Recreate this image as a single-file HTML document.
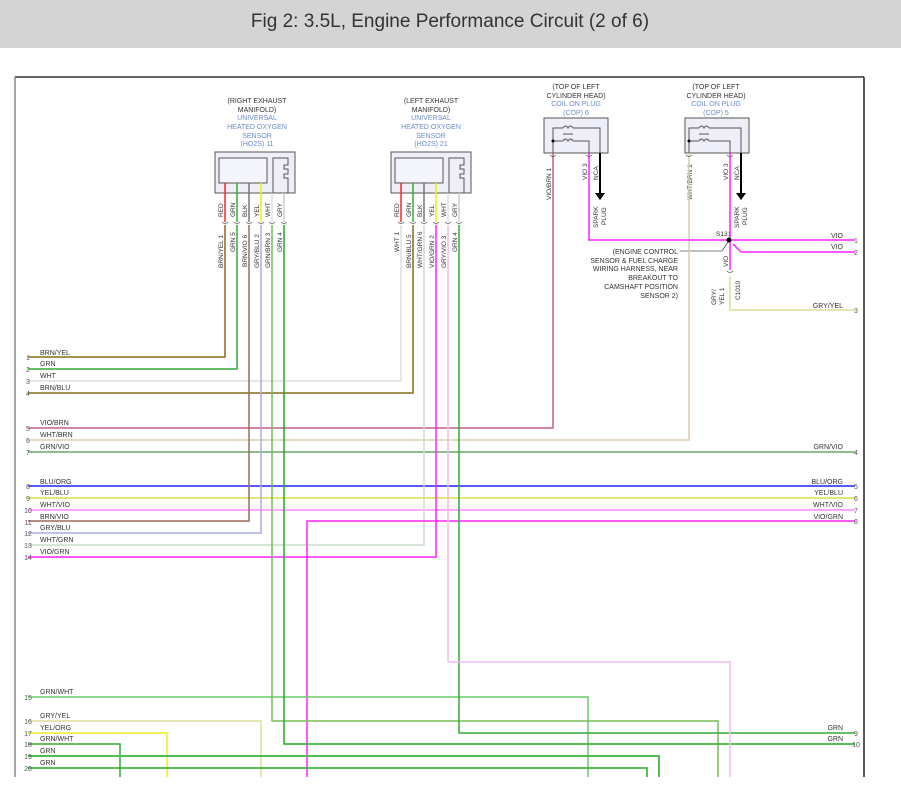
<!DOCTYPE html>
<html><head><meta charset="utf-8"><style>
html,body{margin:0;padding:0;background:#fff;}
svg{display:block;font-family:"Liberation Sans",Arial,sans-serif;}
</style></head><body>
<svg width="901" height="805" viewBox="0 0 901 805" xmlns="http://www.w3.org/2000/svg">
<rect x="0" y="0" width="901" height="48" fill="#d4d4d4"/>
<text x="450" y="27" font-size="19" text-anchor="middle" fill="#333" font-family="Liberation Sans Narrow,Liberation Sans,sans-serif">Fig 2: 3.5L, Engine Performance Circuit (2 of 6)</text>
<line x1="15" y1="77" x2="864" y2="77" stroke="#333" stroke-width="1.5"/>
<line x1="15" y1="77" x2="15" y2="777" stroke="#888" stroke-width="1.5"/>
<line x1="864" y1="77" x2="864" y2="777" stroke="#222" stroke-width="1.5"/>

<g font-size="7" text-anchor="middle">
<text x="257" y="103" fill="#333">(RIGHT EXHAUST</text>
<text x="257" y="112" fill="#333">MANIFOLD)</text>
<text x="257" y="120" fill="#6a8cc8">UNIVERSAL</text>
<text x="257" y="129" fill="#6a8cc8">HEATED OXYGEN</text>
<text x="257" y="138" fill="#6a8cc8">SENSOR</text>
<text x="257" y="146" fill="#6a8cc8">(HO2S) 11</text>
<text x="431" y="103" fill="#333">(LEFT EXHAUST</text>
<text x="431" y="112" fill="#333">MANIFOLD)</text>
<text x="431" y="120" fill="#6a8cc8">UNIVERSAL</text>
<text x="431" y="129" fill="#6a8cc8">HEATED OXYGEN</text>
<text x="431" y="138" fill="#6a8cc8">SENSOR</text>
<text x="431" y="146" fill="#6a8cc8">(HO2S) 21</text>
<text x="576" y="89" fill="#333">(TOP OF LEFT</text>
<text x="576" y="98" fill="#333">CYLINDER HEAD)</text>
<text x="576" y="106" fill="#6a8cc8">COIL ON PLUG</text>
<text x="576" y="115" fill="#6a8cc8">(COP) 6</text>
<text x="716" y="89" fill="#333">(TOP OF LEFT</text>
<text x="716" y="98" fill="#333">CYLINDER HEAD)</text>
<text x="716" y="106" fill="#6a8cc8">COIL ON PLUG</text>
<text x="716" y="115" fill="#6a8cc8">(COP) 5</text>
</g>

<!-- sensor boxes -->
<g fill="#eeeef8" stroke="#555" stroke-width="1">
<rect x="215" y="152" width="80" height="41"/>
<rect x="219" y="158" width="48" height="25" fill="#f4f4fc"/>
<rect x="391" y="152" width="80" height="41"/>
<rect x="395" y="158" width="48" height="25" fill="#f4f4fc"/>
<rect x="544" y="118" width="64" height="35"/>
<rect x="685" y="118" width="64" height="35"/>
</g>
<g fill="none" stroke="#555" stroke-width="1">
<path d="M273 193V158H288V165H284V169H288V174H284V178H288V193"/>
<path d="M449 193V158H464V165H460V169H464V174H460V178H464V193"/>
<path d="M553 153V128H563M573 128H600V200M553 141H563M573 141H589V153"/>
<path d="M563 128q2.5-4 5 0q2.5-4 5 0M563 141q2.5-4 5 0q2.5-4 5 0M563 134H573"/>
<path d="M689 153V128H699M709 128H741V200M689 141H699M709 141H730V153"/>
<path d="M699 128q2.5-4 5 0q2.5-4 5 0M699 141q2.5-4 5 0q2.5-4 5 0M699 134H709"/>
</g>
<circle cx="553" cy="141" r="1.5" fill="#000"/><circle cx="689" cy="141" r="1.5" fill="#000"/>
<g stroke="#000" stroke-width="2"><line x1="600" y1="153" x2="600" y2="195"/><line x1="741" y1="153" x2="741" y2="195"/></g>
<path d="M595 193h10l-5 7z M736 193h10l-5 7z" fill="#000"/>

<!-- sensor top pigtail wires -->
<g stroke-width="1.5" fill="none">
<line x1="225" y1="183" x2="225" y2="222" stroke="#f22"/>
<line x1="237" y1="183" x2="237" y2="222" stroke="#3a3"/>
<line x1="249" y1="183" x2="249" y2="222" stroke="#777"/>
<line x1="261" y1="183" x2="261" y2="222" stroke="#ee0"/>
<line x1="272" y1="193" x2="272" y2="222" stroke="#ddd"/>
<line x1="284" y1="193" x2="284" y2="222" stroke="#ccc"/>
<line x1="401" y1="183" x2="401" y2="222" stroke="#f22"/>
<line x1="413" y1="183" x2="413" y2="222" stroke="#3a3"/>
<line x1="424" y1="183" x2="424" y2="222" stroke="#777"/>
<line x1="436" y1="183" x2="436" y2="222" stroke="#ee0"/>
<line x1="448" y1="193" x2="448" y2="222" stroke="#ddd"/>
<line x1="459" y1="193" x2="459" y2="222" stroke="#ccc"/>
</g>
<g font-size="6.5" fill="#333">
<text transform="translate(223,217) rotate(-90)">RED</text>
<text transform="translate(235,217) rotate(-90)">GRN</text>
<text transform="translate(247,217) rotate(-90)">BLK</text>
<text transform="translate(259,217) rotate(-90)">YEL</text>
<text transform="translate(270,217) rotate(-90)">WHT</text>
<text transform="translate(282,217) rotate(-90)">GRY</text>
<text transform="translate(399,217) rotate(-90)">RED</text>
<text transform="translate(411,217) rotate(-90)">GRN</text>
<text transform="translate(422,217) rotate(-90)">BLK</text>
<text transform="translate(434,217) rotate(-90)">YEL</text>
<text transform="translate(446,217) rotate(-90)">WHT</text>
<text transform="translate(457,217) rotate(-90)">GRY</text>
<text transform="translate(223,268) rotate(-90)">BRN/YEL  1</text>
<text transform="translate(235,252) rotate(-90)">GRN  5</text>
<text transform="translate(247,267) rotate(-90)">BRN/VIO  6</text>
<text transform="translate(259,268) rotate(-90)">GRY/BLU  2</text>
<text transform="translate(270,268) rotate(-90)">GRN/BRN  3</text>
<text transform="translate(282,252) rotate(-90)">GRN  4</text>
<text transform="translate(399,252) rotate(-90)">WHT  1</text>
<text transform="translate(411,268) rotate(-90)">BRN/BLU  5</text>
<text transform="translate(422,268) rotate(-90)">WHT/GRN  6</text>
<text transform="translate(434,268) rotate(-90)">VIO/GRN  2</text>
<text transform="translate(446,268) rotate(-90)">GRY/VIO  3</text>
<text transform="translate(457,252) rotate(-90)">GRN  4</text>
<text transform="translate(551,200) rotate(-90)">VIO/BRN  1</text>
<text transform="translate(587,180) rotate(-90)">VIO  3</text>
<text transform="translate(598,180) rotate(-90)">NCA</text>
<text transform="translate(598,228) rotate(-90)">SPARK</text>
<text transform="translate(606,225) rotate(-90)">PLUG</text>
<text transform="translate(692,200) rotate(-90)">WHT/BRN  1</text>
<text transform="translate(728,180) rotate(-90)">VIO  3</text>
<text transform="translate(739,180) rotate(-90)">NCA</text>
<text transform="translate(739,228) rotate(-90)">SPARK</text>
<text transform="translate(747,225) rotate(-90)">PLUG</text>
<text transform="translate(728,267) rotate(-90)">VIO</text>
<text transform="translate(716,305) rotate(-90)">GRY/</text>
<text transform="translate(724,305) rotate(-90)">YEL  1</text>
<text transform="translate(740,300) rotate(-90)">C1010</text>
<text x="716" y="236">S131</text>
</g>
<g font-size="7" fill="#333" text-anchor="end">
<text x="678" y="254">(ENGINE CONTROL</text>
<text x="678" y="263">SENSOR &amp; FUEL CHARGE</text>
<text x="678" y="271">WIRING HARNESS, NEAR</text>
<text x="678" y="280">BREAKOUT TO</text>
<text x="678" y="289">CAMSHAFT POSITION</text>
<text x="678" y="298">SENSOR 2)</text>
</g>
<line x1="680" y1="251" x2="722" y2="251" stroke="#555" stroke-width="0.8"/>
<line x1="722" y1="251" x2="728" y2="242" stroke="#555" stroke-width="0.8"/>

<!-- wires -->
<g fill="none" stroke-width="1.5">
<path d="M28 357H225V225" stroke="#8a6a1a"/>
<path d="M28 369H237V225" stroke="#3a3"/>
<path d="M28 381H401V225" stroke="#ddd"/>
<path d="M28 393H413V225" stroke="#8a6a1a"/>
<path d="M28 428H553V153" stroke="#c06080"/>
<path d="M28 440H689V153" stroke="#d8ceb0"/>
<path d="M28 452H855" stroke="#6a6"/>
<path d="M28 486H855" stroke="#22f"/>
<path d="M28 498H855" stroke="#dd4"/>
<path d="M28 510H855" stroke="#f8f"/>
<path d="M28 521H249V225" stroke="#a06a5a"/>
<path d="M28 533H261V225" stroke="#aae"/>
<path d="M28 545H424V225" stroke="#cdc"/>
<path d="M28 557H436V225" stroke="#f2f"/>
<path d="M855 521H307V777" stroke="#f2f"/>
<path d="M28 697H588V777" stroke="#6c6"/>
<path d="M28 721H261V777" stroke="#dd9"/>
<path d="M272 225V721H718V777" stroke="#7b5"/>
<path d="M28 733H167V777" stroke="#ee2"/>
<path d="M459 225V733H855" stroke="#3a3"/>
<path d="M28 744H120V777" stroke="#3a3"/>
<path d="M284 225V744H855" stroke="#2a2"/>
<path d="M28 756H659V777" stroke="#5b5" stroke-width="2"/>
<path d="M28 768H647V777" stroke="#2a2"/>
<path d="M448 225V662H730V777" stroke="#ebe"/>
<path d="M589 153V240H855" stroke="#f2f"/>
<path d="M730 153V270" stroke="#f2f"/>
<path d="M733 244L741 252H855" stroke="#f2f"/>
<path d="M730 276V310H855" stroke="#dd9"/>
</g>
<circle cx="729" cy="240" r="2.5" fill="#000"/>
<g stroke="#555" fill="none" stroke-width="0.8">
<path d="M727 271q3 3 6 0"/>
</g>
<g font-size="7" fill="#333">
<text x="40" y="355">BRN/YEL</text><text x="40" y="366">GRN</text><text x="40" y="378">WHT</text><text x="40" y="390">BRN/BLU</text>
<text x="40" y="425">VIO/BRN</text><text x="40" y="437">WHT/BRN</text><text x="40" y="449">GRN/VIO</text>
<text x="40" y="484">BLU/ORG</text><text x="40" y="495">YEL/BLU</text><text x="40" y="507">WHT/VIO</text><text x="40" y="519">BRN/VIO</text>
<text x="40" y="530">GRY/BLU</text><text x="40" y="542">WHT/GRN</text><text x="40" y="554">VIO/GRN</text>
<text x="40" y="694">GRN/WHT</text><text x="40" y="718">GRY/YEL</text><text x="40" y="730">YEL/ORG</text><text x="40" y="741">GRN/WHT</text>
<text x="40" y="753">GRN</text><text x="40" y="765">GRN</text>
</g>
<g font-size="7" fill="#555" text-anchor="middle">
<text x="28" y="360">1</text><text x="28" y="372">2</text><text x="28" y="384">3</text><text x="28" y="396">4</text>
<text x="28" y="431">5</text><text x="28" y="443">6</text><text x="28" y="455">7</text>
<text x="28" y="489">8</text><text x="28" y="501">9</text><text x="28" y="513">10</text><text x="28" y="525">11</text>
<text x="28" y="536">12</text><text x="28" y="548">13</text><text x="28" y="560">14</text>
<text x="28" y="700">15</text><text x="28" y="724">16</text><text x="28" y="736">17</text><text x="28" y="747">18</text>
<text x="28" y="759">19</text><text x="28" y="771">20</text>
<text x="856" y="243">1</text><text x="856" y="255">2</text><text x="856" y="313">3</text><text x="856" y="455">4</text>
<text x="856" y="489">5</text><text x="856" y="501">6</text><text x="856" y="513">7</text><text x="856" y="524">8</text>
<text x="856" y="736">9</text><text x="856" y="747">10</text>
</g>
<g font-size="7" fill="#333" text-anchor="end">
<text x="843" y="238">VIO</text><text x="843" y="249">VIO</text><text x="843" y="308">GRY/YEL</text>
<text x="843" y="449">GRN/VIO</text><text x="843" y="484">BLU/ORG</text><text x="843" y="495">YEL/BLU</text>
<text x="843" y="507">WHT/VIO</text><text x="843" y="519">VIO/GRN</text>
<text x="843" y="730">GRN</text><text x="843" y="741">GRN</text>
</g>
<!-- connector chevrons -->
<g stroke="#555" fill="none" stroke-width="0.7">
<path d="M222 222q3 3 6 0M234 222q3 3 6 0M246 222q3 3 6 0M258 222q3 3 6 0M269 222q3 3 6 0M281 222q3 3 6 0"/>
<path d="M398 222q3 3 6 0M410 222q3 3 6 0M421 222q3 3 6 0M433 222q3 3 6 0M445 222q3 3 6 0M456 222q3 3 6 0"/>
<path d="M550 155q3 3 6 0M586 155q3 3 6 0M686 155q3 3 6 0M727 155q3 3 6 0"/>
</g>
</svg>
</body></html>
